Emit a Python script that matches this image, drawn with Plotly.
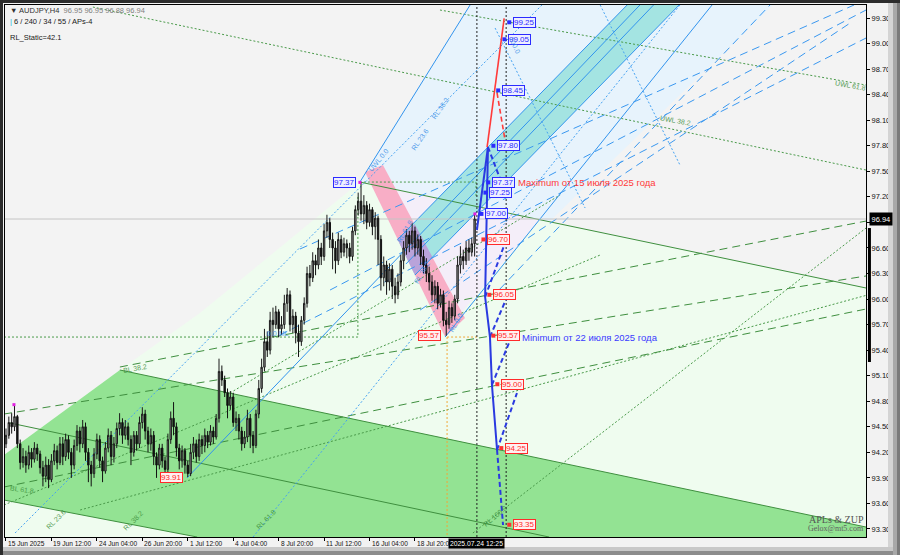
import plotly.graph_objects as go

# ---------------- data (x = H4 bar index, y = price) ----------------
OPEN = [94.30, 94.40, 94.55, 94.50, 94.62, 94.30, 94.08, 94.15, 94.05, 94.20,
        94.12, 94.25, 94.18, 94.02, 93.92, 94.05, 93.88, 94.10, 94.22, 94.08,
        94.30, 94.15, 94.35, 94.20, 94.05, 94.28, 94.45, 94.30, 94.50, 94.20,
        94.05, 93.95, 94.18, 94.35, 94.10, 93.98, 94.25, 94.40, 94.15, 94.30,
        94.48, 94.55, 94.40, 94.50, 94.35, 94.20, 94.40, 94.30, 94.55, 94.65,
        94.45, 94.30, 94.40, 94.15, 94.05, 94.25, 94.10, 94.00, 94.35, 94.60,
        94.50, 94.25, 94.10, 94.22, 94.05, 93.95, 94.20, 94.30, 94.15, 94.35,
        94.28, 94.40, 94.32, 94.45, 94.38, 94.60, 95.15, 95.05, 94.90, 94.75,
        94.85, 94.55, 94.60, 94.45, 94.30, 94.38, 94.60, 94.40, 94.28, 94.65,
        94.95, 95.20, 95.50, 95.40, 95.75, 95.70, 95.85, 95.65, 95.70, 95.95,
        96.05, 95.70, 95.80, 95.60, 95.50, 95.75, 95.95, 96.30, 96.25, 96.45,
        96.40, 96.60, 96.50, 96.80, 96.90, 96.70, 96.60, 96.45, 96.70, 96.55,
        96.65, 96.60, 96.50, 96.80, 97.05, 97.15, 97.00, 97.10, 96.90, 97.05,
        96.85, 96.95, 96.70, 96.25, 96.40, 96.20, 96.35, 96.15, 96.05, 96.20,
        96.45, 96.60, 96.75, 96.65, 96.80, 96.60, 96.70, 96.50, 96.40, 96.30,
        96.20, 96.05, 96.15, 95.95, 96.05, 95.75, 95.70, 95.90, 95.80, 96.00,
        96.40, 96.50, 96.45, 96.60, 96.55, 96.65]
HIGH = [94.48, 94.62, 94.66, 94.76, 94.64, 94.35, 94.25, 94.22, 94.28, 94.25,
        94.32, 94.30, 94.22, 94.10, 94.15, 94.12, 94.18, 94.30, 94.28, 94.38,
        94.38, 94.42, 94.40, 94.25, 94.35, 94.52, 94.50, 94.58, 94.55, 94.25,
        94.10, 94.25, 94.42, 94.40, 94.15, 94.32, 94.48, 94.45, 94.38, 94.55,
        94.66, 94.60, 94.58, 94.55, 94.40, 94.45, 94.45, 94.62, 94.73, 94.70,
        94.50, 94.48, 94.45, 94.20, 94.30, 94.30, 94.15, 94.42, 94.68, 94.79,
        94.55, 94.30, 94.28, 94.25, 94.10, 94.30, 94.38, 94.35, 94.42, 94.40,
        94.48, 94.45, 94.52, 94.50, 94.65, 95.30, 95.22, 95.10, 94.95, 94.92,
        94.90, 94.68, 94.65, 94.50, 94.45, 94.70, 94.65, 94.45, 94.70, 95.05,
        95.30, 95.65, 95.62, 95.85, 95.90, 95.92, 95.88, 95.80, 96.05, 96.13,
        96.10, 95.88, 95.85, 95.70, 95.80, 96.02, 96.38, 96.40, 96.55, 96.52,
        96.70, 96.66, 96.88, 96.99, 96.95, 96.78, 96.68, 96.78, 96.75, 96.72,
        96.70, 96.66, 96.85, 97.10, 97.25, 97.37, 97.22, 97.15, 97.12, 97.08,
        97.02, 96.98, 96.75, 96.50, 96.45, 96.42, 96.40, 96.25, 96.30, 96.52,
        96.68, 96.82, 96.80, 96.89, 96.85, 96.76, 96.74, 96.58, 96.48, 96.38,
        96.28, 96.22, 96.20, 96.12, 96.10, 95.85, 95.98, 95.95, 96.05, 96.50,
        96.62, 96.58, 96.68, 96.70, 96.72, 97.00]
LOW = [94.25, 94.36, 94.42, 94.45, 94.25, 94.00, 94.02, 93.96, 94.00, 94.02,
       94.08, 94.10, 93.95, 93.80, 93.85, 93.78, 93.85, 94.05, 94.00, 94.05,
       94.05, 94.10, 94.12, 93.90, 94.00, 94.22, 94.20, 94.25, 94.10, 93.85,
       93.80, 93.90, 94.12, 94.02, 93.85, 93.95, 94.20, 94.05, 94.08, 94.25,
       94.40, 94.30, 94.35, 94.28, 94.05, 94.15, 94.22, 94.25, 94.48, 94.35,
       94.20, 94.22, 94.05, 93.90, 94.00, 94.02, 93.85, 93.95, 94.30, 94.40,
       94.15, 94.00, 94.02, 93.95, 93.91, 93.92, 94.12, 94.08, 94.10, 94.18,
       94.20, 94.25, 94.28, 94.30, 94.35, 94.55, 94.98, 94.85, 94.60, 94.70,
       94.50, 94.45, 94.35, 94.22, 94.25, 94.32, 94.25, 94.19, 94.25, 94.60,
       94.90, 95.15, 95.32, 95.35, 95.55, 95.65, 95.55, 95.58, 95.65, 95.85,
       95.62, 95.60, 95.48, 95.32, 95.45, 95.70, 95.90, 96.15, 96.20, 96.28,
       96.35, 96.40, 96.45, 96.72, 96.60, 96.35, 96.30, 96.40, 96.48, 96.50,
       96.48, 96.42, 96.45, 96.75, 96.98, 96.92, 96.88, 96.82, 96.85, 96.75,
       96.70, 96.40, 96.10, 96.15, 96.05, 96.10, 96.00, 95.95, 96.00, 96.15,
       96.35, 96.52, 96.55, 96.58, 96.50, 96.52, 96.40, 96.30, 96.20, 96.10,
       95.98, 95.95, 95.88, 95.90, 95.68, 95.57, 95.65, 95.72, 95.75, 95.95,
       96.30, 96.35, 96.40, 96.45, 96.50, 96.50]
CLOSE = [94.40, 94.55, 94.50, 94.62, 94.30, 94.08, 94.15, 94.05, 94.20, 94.12,
         94.25, 94.18, 94.02, 93.92, 94.05, 93.88, 94.10, 94.22, 94.08, 94.30,
         94.15, 94.35, 94.20, 94.05, 94.28, 94.45, 94.30, 94.50, 94.20, 94.05,
         93.95, 94.18, 94.35, 94.10, 93.98, 94.25, 94.40, 94.15, 94.30, 94.48,
         94.55, 94.40, 94.50, 94.35, 94.20, 94.40, 94.30, 94.55, 94.65, 94.45,
         94.30, 94.40, 94.15, 94.05, 94.25, 94.10, 94.00, 94.35, 94.60, 94.50,
         94.25, 94.10, 94.22, 94.05, 93.95, 94.20, 94.30, 94.15, 94.35, 94.28,
         94.40, 94.32, 94.45, 94.38, 94.60, 95.15, 95.05, 94.90, 94.75, 94.85,
         94.55, 94.60, 94.45, 94.30, 94.38, 94.60, 94.40, 94.28, 94.65, 94.95,
         95.20, 95.50, 95.40, 95.75, 95.70, 95.85, 95.65, 95.70, 95.95, 96.05,
         95.70, 95.80, 95.60, 95.50, 95.75, 95.95, 96.30, 96.25, 96.45, 96.40,
         96.60, 96.50, 96.80, 96.90, 96.70, 96.60, 96.45, 96.70, 96.55, 96.65,
         96.60, 96.50, 96.80, 97.05, 97.15, 97.00, 97.10, 96.90, 97.05, 96.85,
         96.95, 96.70, 96.25, 96.40, 96.20, 96.35, 96.15, 96.05, 96.20, 96.45,
         96.60, 96.75, 96.65, 96.80, 96.60, 96.70, 96.50, 96.40, 96.30, 96.20,
         96.05, 96.15, 95.95, 96.05, 95.75, 95.70, 95.90, 95.80, 96.00, 96.40,
         96.50, 96.45, 96.60, 96.55, 96.65, 96.94]

TIME_TICK_BARS = [0, 16, 32, 48, 64, 80, 96, 112, 128, 144]
TIME_TICK_LABELS = ["15 Jun 2025", "19 Jun 12:00", "24 Jun 04:00", "26 Jun 20:00",
                    "1 Jul 12:00", "4 Jul 04:00", "8 Jul 20:00", "11 Jul 12:00",
                    "16 Jul 04:00", "18 Jul 20:00"]
PRICE_TICKS = [93.30, 93.60, 93.90, 94.20, 94.50, 94.80, 95.10, 95.40, 95.70,
               96.00, 96.30, 96.60, 96.90, 97.20, 97.50, 97.80, 98.10, 98.40,
               98.70, 99.00, 99.30]
CURSOR_BAR = 165.8
SECOND_CURSOR_BAR = 176.1
CURSOR_LABEL = "2025.07.24 12:25"
LAST_PRICE = 96.94
X_RANGE = [-0.35, 302.8]
Y_RANGE = [93.206, 99.453]

# filled zones (bar, price)
ZONE_PALE_GREEN = [(-0.7, 94.169), (40.1, 95.167), (68.3, 95.836), (124.6, 97.374),
                   (302.8, 96.130), (302.8, 93.206), (-0.7, 93.206)]
ZONE_DARK_GREEN = [(-0.7, 94.169), (40.1, 95.167), (302.8, 93.323), (302.8, 93.206),
                   (67.3, 93.206), (-0.7, 93.640)]
ZONE_LIGHT_BLUE = [(124.6, 97.374), (163.4, 99.453), (270.0, 99.453), (191.2, 96.905)]
ZONE_LAVENDER = [(136.3, 97.292), (187.7, 96.928), (160.6, 95.848)]
ZONE_PINK = [(126.4, 97.492), (132.7, 97.574), (161.6, 95.777), (154.6, 95.554)]
ZONE_TEAL = [(137.9, 96.699), (218.7, 99.453), (237.0, 99.453), (144.0, 96.282)]
ZONE_PURPLE = [(137.9, 96.699), (143.9, 96.882), (150.2, 96.489), (144.0, 96.282)]

# trend / channel lines
GREEN_SOLID = [[(124.6, 97.374), (302.8, 96.130)],
               [(40.1, 95.167), (302.8, 93.323)],
               [(-0.7, 93.640), (67.3, 93.206)],
               [(1.4, 94.545), (191.2, 93.206)]]
GREEN_DASHED = [[(40.1, 95.202), (302.8, 96.916)],
                [(-0.7, 94.650), (302.8, 96.271)],
                [(-0.7, 93.793), (302.8, 95.883)]]
GREEN_DOTTED = [[(30.6, 99.429), (302.8, 97.515)],
                [(152.8, 99.394), (302.8, 98.513)],
                [(164.4, 93.253), (302.8, 96.834)],
                [(-0.7, 93.582), (209.2, 96.517)],
                [(26.1, 93.523), (302.8, 96.043)],
                [(78.9, 94.897), (195.1, 97.222)],
                [(-0.7, 95.554), (123.9, 95.554), (123.9, 97.222)],
                [(124.6, 97.374), (165.5, 97.374), (165.5, 97.198)]]
BLUE_SOLID = [[(63.7, 93.899), (223.2, 99.453)],
              [(137.9, 96.699), (218.7, 99.453)],
              [(144.0, 96.282), (237.0, 99.453)],
              [(140.8, 96.411), (228.0, 99.453)],
              [(154.6, 95.554), (248.6, 99.453)],
              [(124.6, 97.374), (163.4, 99.453)]]
BLUE_DASHED = [[(96.5, 95.578), (302.8, 99.065)],
               [(114.1, 96.106), (302.8, 99.394)],
               [(103.5, 96.588), (298.6, 99.453)],
               [(145.8, 95.871), (297.2, 99.241)],
               [(173.9, 96.118), (269.0, 99.453)]]
BLUE_DOTTED = [[(3.2, 93.253), (188.7, 99.453)],
               [(87.0, 93.206), (237.3, 99.453)],
               [(172.2, 99.183), (203.9, 97.069)],
               [(209.2, 99.453), (237.3, 97.574)]]
ORANGE_DOTTED = [[(155.3, 95.554), (165.8, 95.554)],
                 [(155.3, 95.554), (155.3, 93.206)]]

# forecast paths
RED_SOLID = [(169.4, 97.785), (175.4, 99.296)]
RED_DASHED = [(172.9, 98.42), (175.7, 97.868)]
BLUE_FC_SOLID = [[(165.8, 96.811), (169.7, 97.785)],
                 [(169.7, 97.785), (168.7, 96.024), (170.4, 95.554), (171.1, 94.991), (172.9, 94.228)]]
BLUE_FC_DASHED = [[(172.9, 94.228), (175.0, 93.347)],
                  [(168.7, 96.024), (175.7, 96.658)],
                  [(170.4, 95.554), (176.4, 96.024)],
                  [(171.1, 94.991), (177.5, 95.519)],
                  [(172.9, 94.228), (179.9, 94.897)],
                  [(169.7, 97.785), (176.4, 97.198)]]

# level labels
BLUE_LEVELS = [99.25, 99.05, 98.45, 97.80, 97.37, 97.25, 97.00]
BLUE_LEVEL_BARS = [178.5, 176.8, 174.6, 172.9, 171.1, 170.1, 168.7]
RED_LEVELS = [96.70, 96.05, 95.57, 95.00, 94.25, 93.35]
RED_LEVEL_BARS = [169.4, 171.5, 172.9, 174.3, 175.7, 178.5]
LEFT_BLUE_LEVELS = [97.37]
LEFT_BLUE_BARS = [115.1]
LEFT_RED_LEVELS = [95.57, 93.91]
LEFT_RED_BARS = [145.1, 54.2]
EXTREME_DOTS_X = [2.8, 124.6, 165.1]
EXTREME_DOTS_Y = [94.76, 97.37, 97.00]

LINE_LABELS = [  # text, bar, price, angle, colour
    ("BL 38.2", 45.4, 95.19, -10, "#3c8f3c"),
    ("BL 61.8", 5.6, 93.76, 8, "#3c8f3c"),
    ("RL 23.6", 17.6, 93.41, -45, "#3c8f3c"),
    ("RL 38.2", 44.8, 93.40, -45, "#3c8f3c"),
    ("RL 61.8", 91.5, 93.41, -45, "#3c8f3c"),
    ("RL 100.0", 172.0, 93.45, -40, "#3c8f3c"),
    ("UWL 0.0", 131.0, 97.63, -50, "#3a90e8"),
    ("RL 23.6", 145.8, 97.87, -55, "#3a90e8"),
    ("RL 38.2", 152.8, 98.24, -55, "#3a90e8"),
    ("100.0", 179.2, 98.98, 65, "#3a90e8"),
    ("UWL 38.2", 235.6, 98.10, 10, "#3c8f3c"),
    ("UWL 61.8", 297.2, 98.51, 10, "#3c8f3c"),
    ("0.0 ML", 95.8, 95.59, 0, "#3a90e8"),
    ("RL 61.8", 140.4, 96.79, -60, "#3a90e8"),
    ("RL 38.2", 146.5, 96.31, -60, "#3a90e8"),
    ("RL 0.0", 158.5, 95.72, -60, "#3a90e8"),
]

FONT = "Liberation Sans"
W, H = 900, 555
ML, MR, MT, MB = 5, 34, 5, 18


def xs(pts):
    return [p[0] for p in pts]


def ys(pts):
    return [p[1] for p in pts]


def px2paper_x(px):
    return (px - ML) / (W - ML - MR)


def py2paper_y(py):
    return (H - MB - py) / (H - MT - MB)


fig = go.Figure()
shapes = []


def add_zone(pts, color):
    path = "M " + " L ".join(f"{x},{y}" for x, y in pts) + " Z"
    shapes.append(dict(type="path", xref="x", yref="y", path=path, fillcolor=color,
                       line=dict(width=0), layer="below"))


add_zone(ZONE_PALE_GREEN, "#effcef")
add_zone(ZONE_DARK_GREEN, "#93e393")
add_zone(ZONE_LIGHT_BLUE, "#e7f3fc")
add_zone(ZONE_LAVENDER, "#f4eef9")
add_zone(ZONE_PINK, "#f8aec6")
add_zone(ZONE_TEAL, "#a4e4e2")
add_zone(ZONE_PURPLE, "#b9a3da")


def add_below_lines(groups, color, dash, width=1):
    for pts in groups:
        path = "M " + " L ".join(f"{x},{y}" for x, y in pts)
        shapes.append(dict(type="path", xref="x", yref="y", path=path,
                           line=dict(color=color, width=width, dash=dash), layer="below"))


def add_lines(groups, color, dash, width=1):
    for pts in groups:
        fig.add_trace(go.Scatter(x=xs(pts), y=ys(pts), mode="lines",
                                 line=dict(color=color, width=width, dash=dash),
                                 hoverinfo="skip", showlegend=False))


add_below_lines(GREEN_SOLID, "#3f8f3f", "solid")
add_below_lines(GREEN_DASHED, "#3f8f3f", "8px,5px")
add_below_lines(GREEN_DOTTED, "#4a9a4a", "2px,2px")
add_below_lines(BLUE_SOLID, "#3294ee", "solid")
add_below_lines(BLUE_DASHED, "#3a98f0", "8px,5px")
add_below_lines(BLUE_DOTTED, "#45a2f2", "2px,2px")
add_below_lines(ORANGE_DOTTED, "#f0a838", "2px,2px")
# bid line
add_below_lines([[(X_RANGE[0], LAST_PRICE), (X_RANGE[1], LAST_PRICE)]], "#c4c4c4", "solid")
# cursor vertical dotted lines
add_below_lines([[(CURSOR_BAR, Y_RANGE[0]), (CURSOR_BAR, Y_RANGE[1])],
                 [(SECOND_CURSOR_BAR, Y_RANGE[0]), (SECOND_CURSOR_BAR, Y_RANGE[1])]],
                "#222222", "2px,2px")

# candles
fig.add_trace(go.Candlestick(
    x=list(range(len(CLOSE))), open=OPEN, high=HIGH, low=LOW, close=CLOSE,
    increasing=dict(line=dict(color="#1a1a1a", width=1), fillcolor="#a0a0a0"),
    decreasing=dict(line=dict(color="#111111", width=1), fillcolor="#111111"),
    whiskerwidth=0, hoverinfo="skip", showlegend=False))

# forecast lines
add_lines([RED_SOLID], "#ff3b3b", "solid", 1.6)
add_lines([RED_DASHED], "#ff3b3b", "5px,3px", 1.6)
add_lines(BLUE_FC_SOLID, "#2a3ae0", "solid", 2)
add_lines(BLUE_FC_DASHED, "#2a3ae0", "5px,3px", 2)

# markers at label points
fig.add_trace(go.Scatter(x=[b - 1.3 for b in BLUE_LEVEL_BARS], y=BLUE_LEVELS, mode="markers",
                         marker=dict(symbol="square", size=4, color="#2b2bff"),
                         hoverinfo="skip", showlegend=False))
fig.add_trace(go.Scatter(x=[b - 1.3 for b in RED_LEVEL_BARS], y=RED_LEVELS, mode="markers",
                         marker=dict(symbol="square", size=4, color="#ff3030"),
                         hoverinfo="skip", showlegend=False))
fig.add_trace(go.Scatter(x=EXTREME_DOTS_X, y=EXTREME_DOTS_Y, mode="markers",
                         marker=dict(symbol="square", size=3, color="#e020e0"),
                         hoverinfo="skip", showlegend=False))

ann = []


def level_box(x, y, color, bg):
    ann.append(dict(x=x, y=y, xref="x", yref="y", text=f"{y:.2f}", showarrow=False,
                    xanchor="left", yanchor="middle",
                    font=dict(family=FONT, size=8, color=color),
                    bgcolor=bg, bordercolor=color, borderwidth=1, borderpad=0))


for b, lv in zip(BLUE_LEVEL_BARS, BLUE_LEVELS):
    level_box(b, lv, "#2b2bff", "#eeeeff")
for b, lv in zip(LEFT_BLUE_BARS, LEFT_BLUE_LEVELS):
    level_box(b, lv, "#2b2bff", "#eeeeff")
for b, lv in zip(RED_LEVEL_BARS, RED_LEVELS):
    level_box(b, lv, "#ff2a2a", "#fff0f0")
for b, lv in zip(LEFT_RED_BARS, LEFT_RED_LEVELS):
    level_box(b, lv, "#ff2a2a", "#fff0f0")

ann.append(dict(x=179.6, y=97.374, xref="x", yref="y", text="Maximum от 15 июля 2025 года",
                showarrow=False, xanchor="left", yanchor="middle",
                font=dict(family=FONT, size=9.5, color="#ff3a3a")))
ann.append(dict(x=181.0, y=95.554, xref="x", yref="y", text="Minimum от 22 июля 2025 года",
                showarrow=False, xanchor="left", yanchor="middle",
                font=dict(family=FONT, size=9.5, color="#3a3aff")))

for text, bx, py, ang, col in LINE_LABELS:
    ann.append(dict(x=bx, y=py, xref="x", yref="y", text=text, showarrow=False,
                    textangle=ang, font=dict(family=FONT, size=7, color=col),
                    opacity=0.85))

# watermark
ann.append(dict(x=292.3, y=93.41, xref="x", yref="y", text="APLs &amp; ZUP", showarrow=False,
                font=dict(family="Liberation Serif", size=10, color="#555555")))
ann.append(dict(x=292.3, y=93.30, xref="x", yref="y", text="Gelox@mt5.com", showarrow=False,
                font=dict(family="Liberation Serif", size=8, color="#606060")))

# header
ann.append(dict(x=px2paper_x(8), y=py2paper_y(10), xref="paper", yref="paper",
                text="▼ AUDJPY,H4  <span style='color:#808080'>96.95 96.95 96.88 96.94</span>",
                showarrow=False, xanchor="left", yanchor="middle",
                font=dict(family=FONT, size=7.5, color="#303030")))
ann.append(dict(x=px2paper_x(8), y=py2paper_y(21), xref="paper", yref="paper",
                text="<span style='color:#20b8e0'>|</span> 6 / 240 / 34 / 55 / APs-4",
                showarrow=False, xanchor="left", yanchor="middle",
                font=dict(family=FONT, size=7.5, color="#202020")))
ann.append(dict(x=px2paper_x(8), y=py2paper_y(38), xref="paper", yref="paper",
                text="RL_Static=42.1", showarrow=False, xanchor="left", yanchor="middle",
                font=dict(family=FONT, size=7.5, color="#202020")))

# time labels (left-aligned at tick like the terminal)
for b, t in zip(TIME_TICK_BARS, TIME_TICK_LABELS):
    ann.append(dict(x=b, y=py2paper_y(543), xref="x", yref="paper", text=t,
                    showarrow=False, xanchor="left", yanchor="middle",
                    font=dict(family=FONT, size=6.6, color="#111111")))
ann.append(dict(x=CURSOR_BAR - 10.0, y=py2paper_y(543), xref="x", yref="paper",
                text=CURSOR_LABEL, showarrow=False, xanchor="left", yanchor="middle",
                bgcolor="#000000", borderpad=1,
                font=dict(family=FONT, size=6.8, color="#ffffff")))
# last price tag
ann.append(dict(x=1.0, y=LAST_PRICE, xref="paper", yref="y", text=f"{LAST_PRICE:.2f}",
                showarrow=False, xanchor="left", yanchor="middle", xshift=3,
                bgcolor="#000000", borderpad=1.5,
                font=dict(family=FONT, size=7.5, color="#ffffff")))

shapes += [
    # indicator bar on the price scale
    dict(type="line", xref="paper", yref="y", x0=1.004, x1=1.004, y0=95.261, y1=96.834,
         line=dict(color="#000000", width=3)),
    # window frame / bevels
    dict(type="rect", xref="paper", yref="paper", x0=px2paper_x(0), x1=px2paper_x(900),
         y0=py2paper_y(0), y1=py2paper_y(3), fillcolor="#2c2c2c", line=dict(width=0)),
    dict(type="rect", xref="paper", yref="paper", x0=px2paper_x(0), x1=px2paper_x(3),
         y0=py2paper_y(0), y1=py2paper_y(555), fillcolor="#2c2c2c", line=dict(width=0)),
    dict(type="rect", xref="paper", yref="paper", x0=px2paper_x(888), x1=px2paper_x(893),
         y0=py2paper_y(3), y1=py2paper_y(555), fillcolor="#d4d4d4", line=dict(width=0)),
    dict(type="rect", xref="paper", yref="paper", x0=px2paper_x(893), x1=px2paper_x(897),
         y0=py2paper_y(3), y1=py2paper_y(555), fillcolor="#a8a8a8", line=dict(width=0)),
    dict(type="rect", xref="paper", yref="paper", x0=px2paper_x(897), x1=px2paper_x(900),
         y0=py2paper_y(3), y1=py2paper_y(555), fillcolor="#7a7a7a", line=dict(width=0)),
    dict(type="rect", xref="paper", yref="paper", x0=px2paper_x(3), x1=px2paper_x(893),
         y0=py2paper_y(547), y1=py2paper_y(551), fillcolor="#c8c8c8", line=dict(width=0)),
    dict(type="rect", xref="paper", yref="paper", x0=px2paper_x(3), x1=px2paper_x(893),
         y0=py2paper_y(551), y1=py2paper_y(555), fillcolor="#8c8c8c", line=dict(width=0)),
]

fig.update_layout(
    width=W, height=H, autosize=False,
    margin=dict(l=ML, r=MR, t=MT, b=MB, pad=0),
    paper_bgcolor="#f2f2f2", plot_bgcolor="#f3f3f3",
    hovermode=False, showlegend=False,
    annotations=ann, shapes=shapes,
    xaxis=dict(range=X_RANGE, showgrid=False, zeroline=False, rangeslider=dict(visible=False),
               tickvals=TIME_TICK_BARS, ticktext=["" for _ in TIME_TICK_BARS],
               ticks="outside", ticklen=3, tickcolor="#000000",
               showline=True, linecolor="#000000", linewidth=1, mirror=True,
               automargin=False, fixedrange=True),
    yaxis=dict(range=Y_RANGE, side="right", showgrid=False, zeroline=False,
               tickvals=PRICE_TICKS, ticktext=[f"{v:.2f}" for v in PRICE_TICKS],
               ticks="outside", ticklen=3, tickcolor="#000000",
               tickfont=dict(family=FONT, size=7.5, color="#111111"),
               showline=True, linecolor="#000000", linewidth=1, mirror=True,
               automargin=False, fixedrange=True),
)

fig.write_html("out.html", config={"displayModeBar": False, "staticPlot": True},
               post_script="document.body.style.margin='0';document.body.style.overflow='hidden';")
